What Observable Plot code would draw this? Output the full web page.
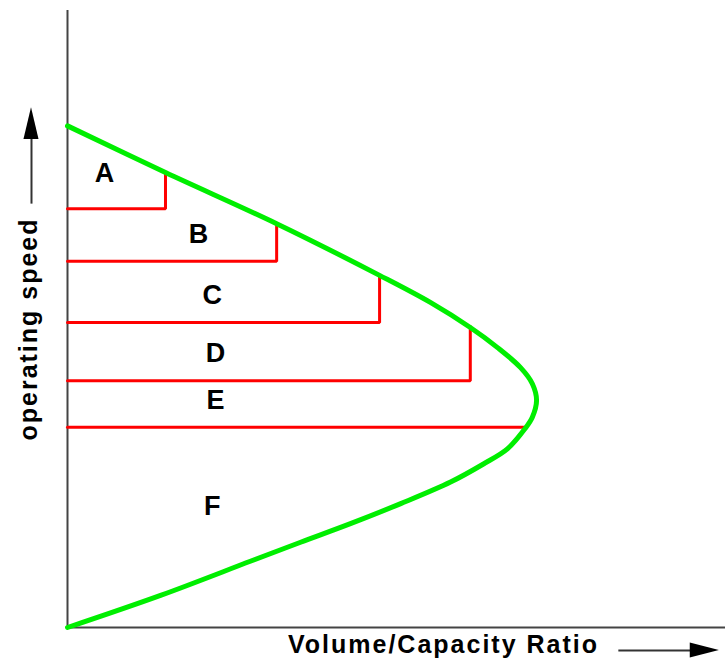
<!DOCTYPE html>
<html>
<head>
<meta charset="utf-8">
<script src="https://cdn.jsdelivr.net/npm/d3@7"></script>
<script src="https://cdn.jsdelivr.net/npm/@observablehq/plot@0.6"></script>
<style>
  html, body { margin: 0; padding: 0; background: #fff; }
</style>
</head>
<body>
<div id="chart"></div>
<script>
// Speed-flow curve (V/C ratio vs operating speed)
const curveVC    = [0, 0.198, 0.389, 0.496, 0.602, 0.709, 0.815, 0.885, 0.936, 0.974, 0.989, 0.998, 0.989, 0.964, 0.915, 0.857, 0.772, 0.664, 0.445, 0.2085, 0];
const curveSpeed = [0, 6.4, 13.2, 17.0, 20.7, 24.7, 29.0, 32.6, 35.6, 39.7, 41.9, 45.3, 48.6, 51.8, 55.8, 59.8, 64.8, 70.2, 80.5, 90.7, 100];

// Level-of-service boundaries
const losLevels     = ["A", "B", "C", "D", "E"];
const boundarySpeed = [83.5, 73.0, 60.8, 49.2, 39.9];
const boundaryVC    = [0.2085, 0.445, 0.664, 0.857, 0.974];
const boundaryTop   = [90.7, 80.5, 70.2, 60.0, 39.9];

// Region labels
const labelText  = ["A", "B", "C", "D", "E", "F"];
const labelVC    = [0.081, 0.281, 0.31, 0.317, 0.317, 0.31];
const labelSpeed = [90.5, 78.3, 66.3, 54.6, 45.3, 24.1];

const curve = curveVC.map((v, i) => ({vc: v, speed: curveSpeed[i]}));
const steps = losLevels.flatMap((l, i) => [
  {los: l, vc: 0, speed: boundarySpeed[i]},
  {los: l, vc: boundaryVC[i], speed: boundarySpeed[i]},
  {los: l, vc: boundaryVC[i], speed: boundaryTop[i]}
]);
const labels = labelText.map((t, i) => ({t, vc: labelVC[i], speed: labelSpeed[i]}));

// axis-title arrows (decoration, in data units)
const vArrowLine = [{x: -0.0766, y1: 84.5, y2: 97.8}];
const vArrowHead = [{y: 97.3, x1: -0.0766 - 0.016, x2: -0.0766 + 0.016}, {y: 103.6, x1: -0.0766, x2: -0.0766}];
const hArrowLine = [{y: -4.6, x1: 1.172, x2: 1.33}];
const hArrowHead = [{x: 1.325, y1: -4.6 - 1.5, y2: -4.6 + 1.5}, {x: 1.387, y1: -4.6, y2: -4.6}];

const chart = Plot.plot({
  width: 725,
  height: 663,
  marginLeft: 67,
  marginRight: 0,
  marginTop: 10,
  marginBottom: 36,
  x: {domain: [0, 1.4], axis: null},
  y: {domain: [0, 123], axis: null},
  style: {fontFamily: "'Liberation Sans', Arial, sans-serif", background: "#fff", letterSpacing: "2px"},
  marks: [
    Plot.ruleX([0], {stroke: "#444", strokeWidth: 2}),
    Plot.ruleY([0], {stroke: "#444", strokeWidth: 2}),
    Plot.line(steps, {x: "vc", y: "speed", z: "los", stroke: "#ff0000", strokeWidth: 3, strokeLinejoin: "miter"}),
    Plot.line(curve, {x: "vc", y: "speed", stroke: "#00ee00", strokeWidth: 5, curve: "catmull-rom"}),
    Plot.text(labels, {x: "vc", y: "speed", text: "t", fontSize: 27, fontWeight: "bold", fill: "#000"}),
    Plot.text(["Volume/Capacity Ratio"], {frameAnchor: "bottom", dx: 47, dy: 25, fontSize: 25, fontWeight: "bold", fill: "#000"}),
    Plot.text(["operating speed"], {frameAnchor: "left", textAnchor: "middle", dx: -39, dy: 10, rotate: -90, fontSize: 25, fontWeight: "bold", fill: "#000"}),
    Plot.link(vArrowLine, {x1: "x", x2: "x", y1: "y1", y2: "y2", stroke: "#333", strokeWidth: 2}),
    Plot.areaX(vArrowHead, {y: "y", x1: "x1", x2: "x2", fill: "#000"}),
    Plot.link(hArrowLine, {y1: "y", y2: "y", x1: "x1", x2: "x2", stroke: "#333", strokeWidth: 2}),
    Plot.areaY(hArrowHead, {x: "x", y1: "y1", y2: "y2", fill: "#000"})
  ]
});
document.getElementById("chart").appendChild(chart);
</script>
</body>
</html>
